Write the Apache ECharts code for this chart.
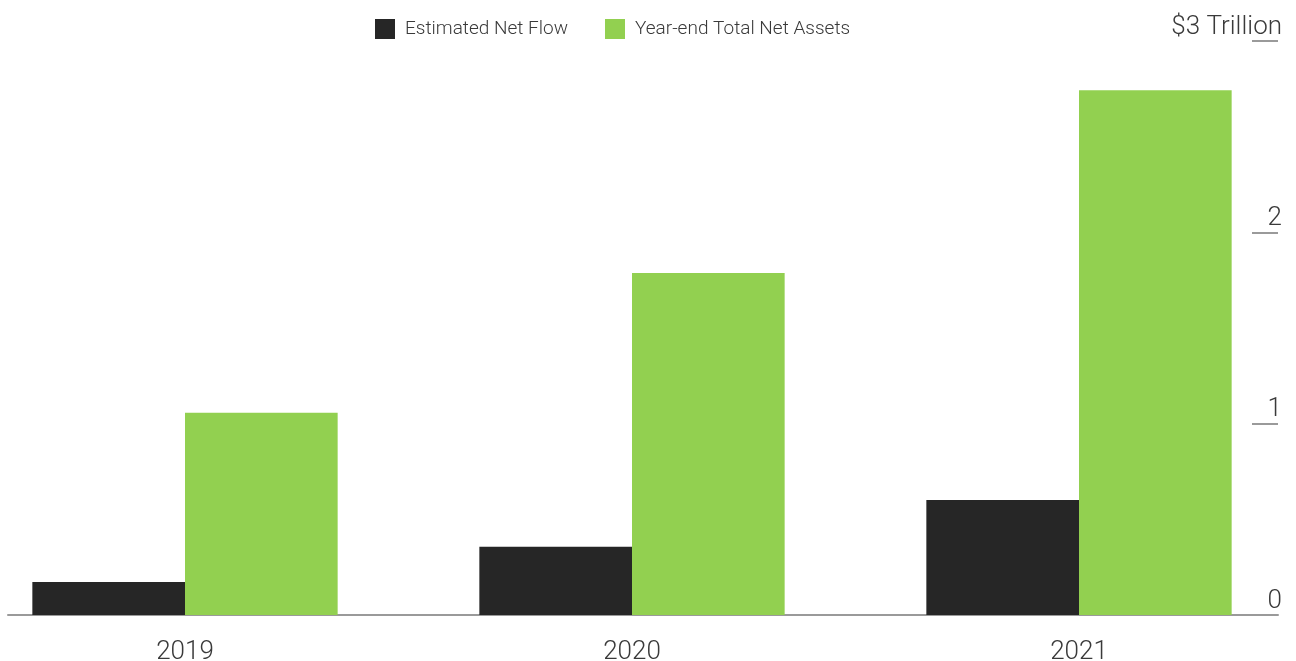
<!DOCTYPE html>
<html>
<head>
<meta charset="utf-8">
<style>
  html, body { margin: 0; padding: 0; background: #ffffff; }
  #chart { width: 1296px; height: 661px; }
</style>
<script src="https://cdn.jsdelivr.net/npm/echarts@6/dist/echarts.min.js"></script>
</head>
<body>
<div id="chart"></div>
<script>
// Years shown on the category axis
const years = ['2019', '2020', '2021'];
// Estimated net flow, $ trillions
const netFlow = [0.172, 0.357, 0.601];
// Year-end total net assets, $ trillions
const totalNetAssets = [1.057, 1.788, 2.743];
// Value axis ticks ($ trillions)
const yTicks = [0, 1, 2, 3];
const yUnit = '$3 Trillion';

const FONT = 'Roboto, "Liberation Sans", sans-serif';
const TEXT = '#3a3a3a';
const RULE = '#9a9a9a';

const chart = echarts.init(document.getElementById('chart'), null, { renderer: 'canvas' });

chart.setOption({
  animation: false,
  backgroundColor: '#ffffff',
  textStyle: { fontFamily: FONT },
  legend: {
    left: 375,
    top: 19,
    padding: 0,
    itemWidth: 20,
    itemHeight: 20,
    itemGap: 37,
    icon: 'rect',
    textStyle: { fontFamily: FONT, fontWeight: 300, fontSize: 19, color: TEXT, padding: [0, 0, 0, 5] },
    data: ['Estimated Net Flow', 'Year-end Total Net Assets']
  },
  grid: [
    // bars: years sit on the ticks, bands extend half a step either side
    { left: 185, right: 217, top: 41, bottom: 46, outerBoundsMode: 'none', containLabel: false },
    // baseline across the full width
    { left: 8, right: 18, top: 41, bottom: 46, outerBoundsMode: 'none', containLabel: false },
    // narrow strip at the right carrying the short tick rules and value labels
    { left: 1252, right: 18, top: 41, bottom: 46, outerBoundsMode: 'none', containLabel: false }
  ],
  xAxis: [
    {
      type: 'category',
      gridIndex: 0,
      data: years,
      boundaryGap: false,
      axisLine: { show: false },
      axisTick: { show: false },
      axisLabel: { fontFamily: FONT, fontWeight: 300, fontSize: 26, color: TEXT, margin: 24 }
    },
    {
      type: 'value',
      gridIndex: 1,
      min: 0,
      max: 1,
      axisLine: { show: true, lineStyle: { color: RULE, width: 2 } },
      axisTick: { show: false },
      axisLabel: { show: false },
      splitLine: { show: false }
    },
    {
      type: 'value',
      gridIndex: 2,
      min: 0,
      max: 1,
      show: false
    }
  ],
  yAxis: [
    {
      type: 'value',
      gridIndex: 0,
      min: yTicks[0],
      max: yTicks[yTicks.length - 1],
      interval: 1,
      show: false
    },
    {
      type: 'value',
      gridIndex: 1,
      min: yTicks[0],
      max: yTicks[yTicks.length - 1],
      interval: 1,
      show: false
    },
    {
      type: 'value',
      gridIndex: 2,
      position: 'right',
      min: yTicks[0],
      max: yTicks[yTicks.length - 1],
      interval: 1,
      axisLine: { show: false },
      axisTick: { show: false },
      splitLine: { show: true, lineStyle: { color: RULE, width: 2 } },
      axisLabel: {
        inside: true,
        margin: -4,
        align: 'right',
        verticalAlign: 'bottom',
        padding: [0, 0, 1, 0],
        fontFamily: FONT,
        fontWeight: 300,
        fontSize: 26,
        color: TEXT,
        formatter: v => (v === yTicks[yTicks.length - 1] ? yUnit : String(v))
      }
    }
  ],
  series: [
    {
      name: 'Estimated Net Flow',
      type: 'bar',
      xAxisIndex: 0,
      yAxisIndex: 0,
      data: netFlow,
      clip: false,
      barGap: '0%',
      barCategoryGap: '31.7%',
      itemStyle: { color: '#262626' }
    },
    {
      name: 'Year-end Total Net Assets',
      type: 'bar',
      xAxisIndex: 0,
      yAxisIndex: 0,
      data: totalNetAssets,
      clip: false,
      barGap: '0%',
      barCategoryGap: '31.7%',
      itemStyle: { color: '#92d050' }
    }
  ]
});
</script>
</body>
</html>
